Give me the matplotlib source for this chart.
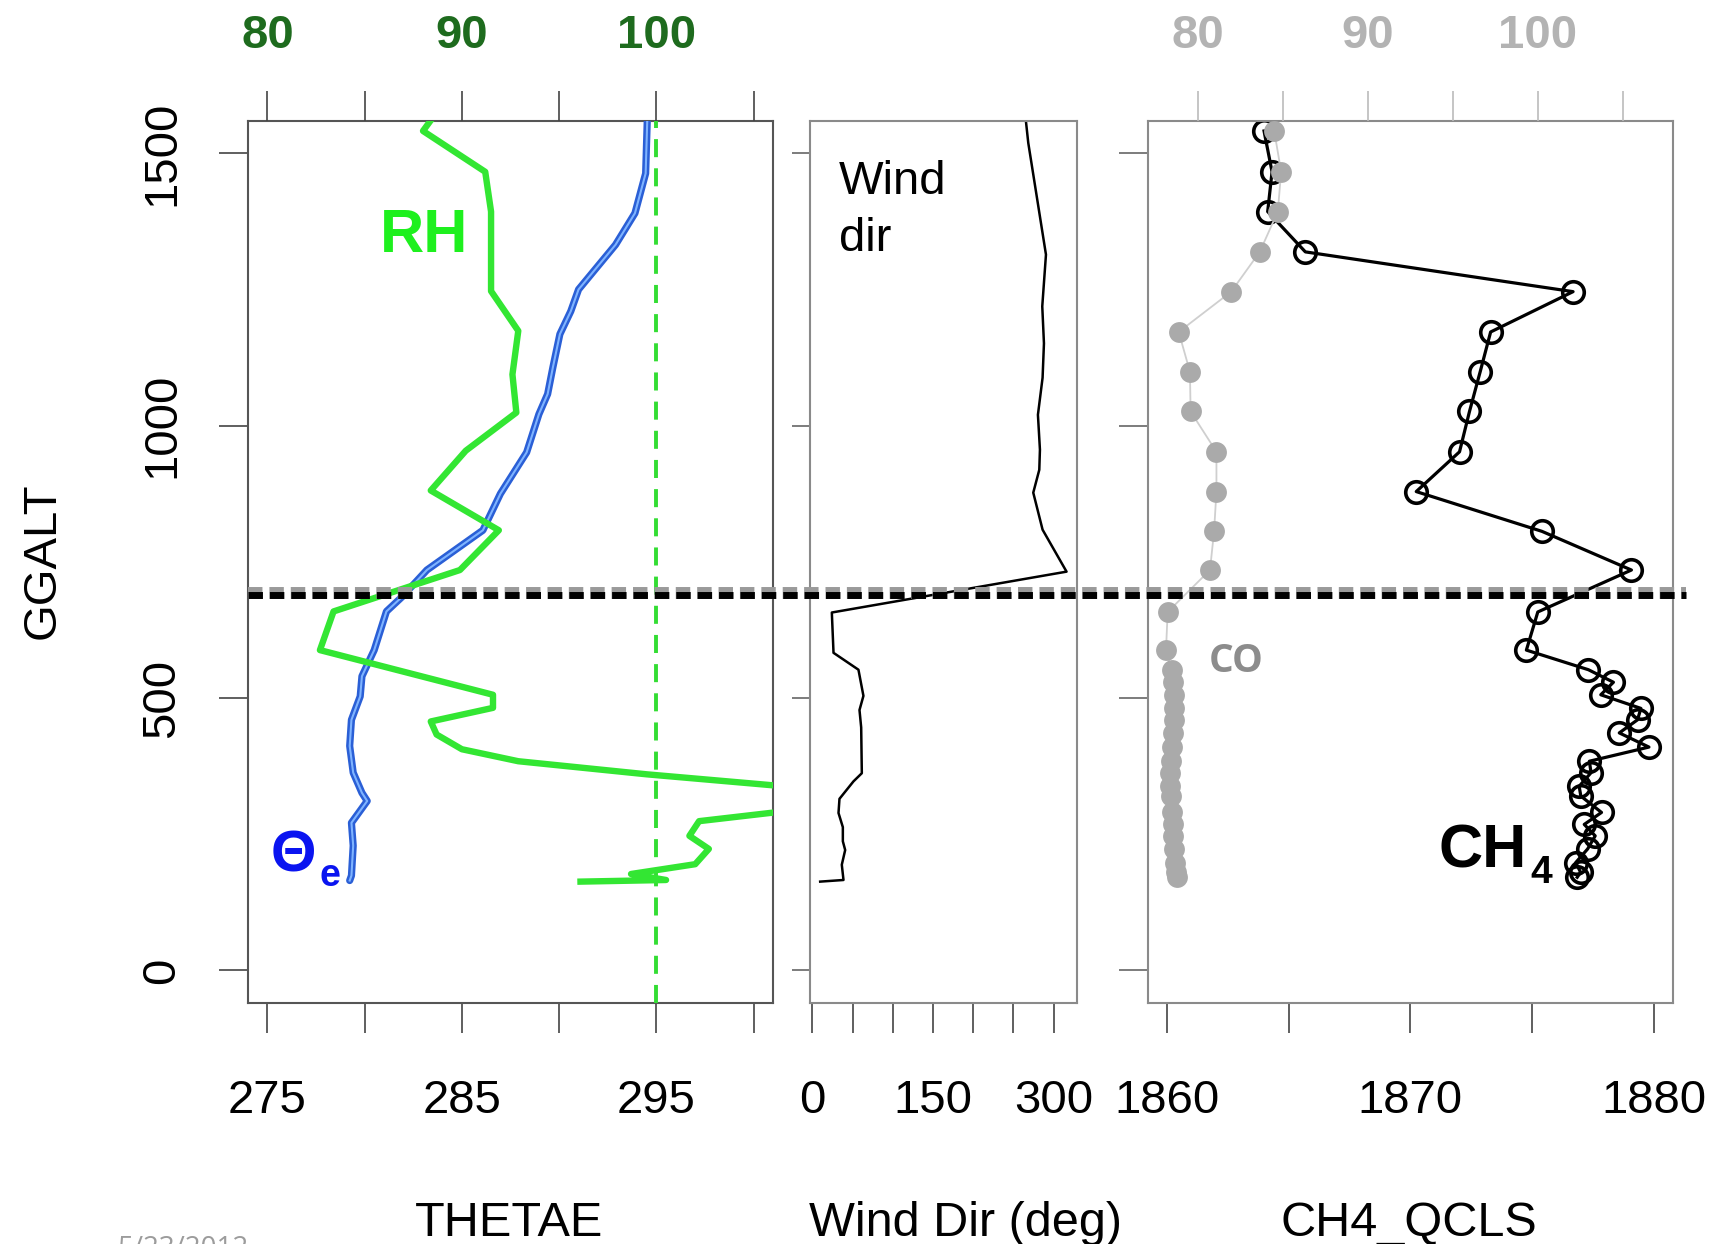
import matplotlib
matplotlib.use("Agg")
import matplotlib.pyplot as plt
import matplotlib.transforms as mtransforms
from matplotlib.lines import Line2D

plt.rcParams['font.family'] = ['Liberation Sans', 'DejaVu Sans']
plt.rcParams['lines.scale_dashes'] = False

# --- profile data (GGALT in m) ---
# equivalent potential temperature
ALT_TH = [1580, 1463, 1390, 1332, 1250, 1210, 1168, 1107, 1058, 1021, 951, 875,
          808, 735, 686, 659, 588, 540, 503, 460, 412, 363, 326, 311, 271, 229, 174, 165]
THETAE = [294.55, 294.45, 293.9, 292.9, 291.0, 290.6, 290.04, 289.68, 289.41, 288.96,
          288.33, 286.98, 286.08, 283.2, 281.93, 281.12, 280.49, 279.86, 279.77, 279.32,
          279.23, 279.41, 279.86, 280.13, 279.32, 279.41, 279.32, 279.23]

# relative humidity (top axis)
ALT_RH = [1580, 1541, 1466, 1393, 1247, 1174, 1094, 1024, 954, 881, 808, 735, 659, 588,
          506, 482, 457, 433, 406, 384, 360, 332, 300, 274, 247, 223, 195, 177, 166, 163]
RH = [88.8, 88.0, 91.2, 91.5, 91.5, 92.9, 92.6, 92.8, 90.2, 88.4, 91.9, 89.9, 83.4, 82.7,
      91.6, 91.6, 88.4, 88.7, 90.0, 92.9, 99.5, 108.5, 108.5, 102.2, 101.7, 102.7, 102.0,
      98.7, 100.5, 96.1]
RH_SAT = 100

# wind direction
ALT_WIND = [1560, 1519, 1314, 1219, 1151, 1088, 1020, 956, 919, 877, 809, 732, 657, 583,
            552, 504, 478, 446, 362, 347, 315, 289, 263, 237, 221, 194, 166, 163]
WDIR = [265.5, 268.5, 290.5, 285.9, 288.0, 286.3, 280.5, 283.0, 282.2, 274.7, 286.3, 316.1,
        24.2, 26.3, 57.3, 63.5, 58.6, 60.7, 61.5, 51.1, 33.7, 32.5, 37.9, 37.9, 40.8, 36.6,
        38.7, 9.7]

# trace gases
ALT_CHEM = [1541, 1466, 1393, 1319, 1246, 1172, 1099, 1026, 952, 879, 806, 735, 658, 588,
            552, 529, 506, 481, 460, 436, 410, 384, 363, 338, 320, 290, 268, 247, 223, 198,
            180, 171]
CH4 = [1863.98, 1864.31, 1864.13, 1865.68, 1876.69, 1873.30, 1872.87, 1872.43, 1872.02,
       1870.24, 1875.41, 1879.09, 1875.24, 1874.77, 1877.32, 1878.35, 1877.83, 1879.48,
       1879.34, 1878.59, 1879.81, 1877.36, 1877.43, 1876.94, 1877.01, 1877.86, 1877.15,
       1877.60, 1877.29, 1876.80, 1877.00, 1876.86]
CO = [84.49, 84.9, 84.7, 83.64, 81.96, 78.87, 79.53, 79.57, 81.09, 81.09, 80.95, 80.71,
      78.22, 78.12, 78.45, 78.55, 78.6, 78.6, 78.6, 78.55, 78.45, 78.4, 78.35, 78.35, 78.4,
      78.5, 78.55, 78.55, 78.6, 78.65, 78.7, 78.75]

BL_TOP = 693  # mixed-layer top

Y_TICKS = [0, 500, 1000, 1500]
TH_TICKS = [275, 280, 285, 290, 295, 300]
TH_LABELS = ['275', '', '285', '', '295', '']
RH_TICKS = [80, 85, 90, 95, 100, 105]
RH_LABELS = ['80', '', '90', '', '100', '']
WD_TICKS = [0, 50, 100, 150, 200, 250, 300]
WD_LABELS = ['0', '', '', '150', '', '', '300']
CH4_TICKS = [1860, 1865, 1870, 1875, 1880]
CH4_LABELS = ['1860', '', '1870', '', '1880']
CO_TICKS = [80, 85, 90, 95, 100, 105]
CO_LABELS = ['80', '', '90', '', '100', '']

W, H = 1719, 1244
fig = plt.figure(figsize=(W / 100, H / 100), dpi=100)


def px_box(left, top, right, bottom):
    return [left / W, 1 - bottom / H, (right - left) / W, (bottom - top) / H]


def fx(x):
    return x / W


def fy(y):
    return 1 - y / H


TOP, BOT = 120.6, 1003.1
ax1 = fig.add_axes(px_box(248, TOP, 773, BOT))
ax2 = fig.add_axes(px_box(810.2, TOP, 1076.6, BOT))
ax3 = fig.add_axes(px_box(1147.8, TOP, 1673, BOT))

TICK_LS = 34
for ax, ecol in ((ax1, '#555555'), (ax2, '#8a8a8a'), (ax3, '#8a8a8a')):
    ax.set_ylim(-60, 1560)
    ax.set_yticks(Y_TICKS)
    for s in ax.spines.values():
        s.set_color(ecol)
        s.set_linewidth(1.5)
    ax.tick_params(axis='x', direction='out', length=21.6, width=1.2, pad=33,
                   labelsize=TICK_LS, color='#444444')

ax1.tick_params(axis='y', direction='out', length=21, width=1.2, pad=25, color='#444444')
ax1.set_yticklabels([str(v) for v in Y_TICKS], rotation=90, va='center', fontsize=TICK_LS)
ax2.tick_params(axis='y', direction='out', length=13, width=1.2, labelleft=False,
                color='#666666')
ax3.tick_params(axis='y', direction='out', length=21, width=1.2, labelleft=False,
                color='#666666')

# panel 1: theta-e and RH
ax1.set_xlim(274, 301)
ax1.set_xticks(TH_TICKS)
ax1.set_xticklabels(TH_LABELS)
ax1.plot(THETAE, ALT_TH, color='#2a5fd6', lw=5.2, solid_joinstyle='round',
         solid_capstyle='round', zorder=3)
ax1.plot(THETAE, ALT_TH, color='#7fb4ff', lw=1.5, solid_joinstyle='round', zorder=3)

rh = ax1.twiny()
rh.set_xlim(79, 106)
rh.set_xticks(RH_TICKS)
rh.set_xticklabels(RH_LABELS, fontweight='bold')
rh.tick_params(axis='x', direction='out', length=21.6, width=1.2, pad=23.5,
               labelsize=TICK_LS, labelcolor='#1e6b1e', color='#444444')
for s in rh.spines.values():
    s.set_visible(False)
rh.axvline(RH_SAT, color='#33dd33', lw=2.8, dashes=(13, 8))
rh.plot(RH, ALT_RH, color='#33e633', lw=4.6, solid_joinstyle='round')

# panel 2: wind direction
ax2.set_xlim(-2.7, 328.6)
ax2.set_xticks(WD_TICKS)
ax2.set_xticklabels(WD_LABELS)
ax2.plot(WDIR, ALT_WIND, color='black', lw=1.8)

# panel 3: CH4 and CO
ax3.set_xlim(1859.2, 1880.8)
ax3.set_xticks(CH4_TICKS)
ax3.set_xticklabels(CH4_LABELS)
ax3.plot(CH4, ALT_CHEM, color='black', lw=2.3, marker='o', ms=15.5, mfc='none',
         mec='black', mew=2.6)

co = ax3.twiny()
co.set_xlim(77.05, 107.96)
co.set_xticks(CO_TICKS)
co.set_xticklabels(CO_LABELS, fontweight='bold')
co.tick_params(axis='x', direction='out', length=21.6, width=1.2, pad=23.5,
               labelsize=TICK_LS, labelcolor='#b3b3b3', color='#bbbbbb')
for s in co.spines.values():
    s.set_visible(False)
co.plot(CO, ALT_CHEM, color='#cfcfcf', lw=1.3, marker='o', ms=15,
        mfc='#aaaaaa', mec='#aaaaaa', mew=0)

# mixed-layer top across all panels
base = mtransforms.blended_transform_factory(fig.transFigure, ax1.transData)
shifted = mtransforms.offset_copy(base, fig=fig, x=0, y=-2.5, units='dots')
fig.add_artist(Line2D([fx(248), fx(1686)], [BL_TOP, BL_TOP], transform=base,
                      color='#9a9a9a', lw=8.6, dashes=(10.4, 5.0)))
fig.add_artist(Line2D([fx(248), fx(1686)], [BL_TOP, BL_TOP], transform=shifted,
                      color='black', lw=5.0, dashes=(10.4, 5.0)))

# annotations
fig.text(fx(380), fy(252), 'RH', color='#1ef01e', fontsize=44, fontweight='bold',
         ha='left', va='baseline')
fig.text(fx(271), fy(872), 'Θ', color='#0a14f0', fontsize=42, fontweight='bold',
         ha='left', va='baseline')
fig.text(fx(319), fy(886), 'e', color='#0a14f0', fontsize=27, fontweight='bold',
         ha='left', va='baseline')
fig.text(fx(839), fy(194), 'Wind', color='black', fontsize=34, ha='left', va='baseline')
fig.text(fx(839), fy(251), 'dir', color='black', fontsize=34, ha='left', va='baseline')
fig.text(fx(1209), fy(672), 'CO', color='#8c8c8c', fontsize=28, fontweight='bold',
         family=['Open Sans', 'Liberation Sans'], ha='left', va='baseline')
fig.text(fx(1438), fy(867), 'CH', color='black', fontsize=44, fontweight='bold',
         ha='left', va='baseline')
fig.text(fx(1530), fy(883), '4', color='black', fontsize=28, fontweight='bold',
         ha='left', va='baseline')

# axis titles
fig.text(fx(509), fy(1235.5), 'THETAE', fontsize=35, ha='center', va='baseline')
fig.text(fx(965), fy(1235.5), 'Wind Dir (deg)', fontsize=35, ha='center', va='baseline')
fig.text(fx(1409), fy(1235.5), 'CH4_QCLS', fontsize=35, ha='center', va='baseline')
fig.text(fx(43), fy(561), 'GGALT', fontsize=34, rotation=90, ha='center', va='center')

# slide date, clipped by the bottom edge
fig.text(fx(117), fy(1235), '5/23/2012', color='#9c9c9c', fontsize=20,
         family=['Open Sans', 'Liberation Sans'], ha='left', va='top')

fig.savefig('out.png', dpi=100)
